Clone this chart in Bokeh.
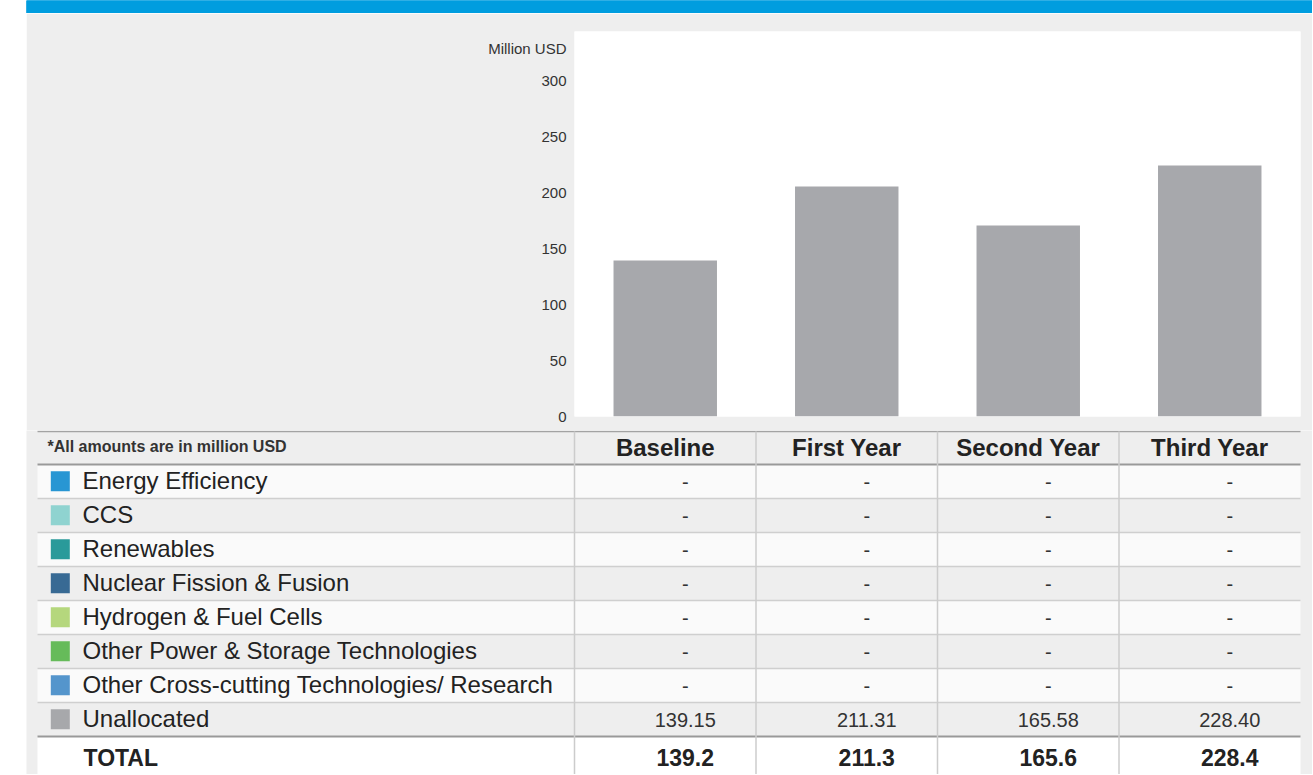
from bokeh.plotting import figure
from bokeh.models import Range1d, FactorRange, FixedTicker, Spacer
from bokeh.layouts import row, column
from bokeh.embed import file_html
from bokeh.resources import INLINE
from bokeh.core.properties import value

# ---------------- data ----------------
periods = ["Baseline", "First Year", "Second Year", "Third Year"]
bar_values = [139.3, 205.4, 170.5, 224.1]          # bar heights
y_ticks = [0, 50, 100, 150, 200, 250, 300]
y_axis_title = "Million USD"

categories = [
    "Energy Efficiency",
    "CCS",
    "Renewables",
    "Nuclear Fission & Fusion",
    "Hydrogen & Fuel Cells",
    "Other Power & Storage Technologies",
    "Other Cross-cutting Technologies/ Research",
    "Unallocated",
]
category_colors = ["#2896d3", "#8fd3d0", "#2a9a9a", "#386a94",
                   "#b5d77d", "#66bb5a", "#5495cc", "#a7a8ab"]
energy_efficiency = [None, None, None, None]
ccs = [None, None, None, None]
renewables = [None, None, None, None]
nuclear = [None, None, None, None]
hydrogen = [None, None, None, None]
other_power = [None, None, None, None]
other_cross = [None, None, None, None]
unallocated = [139.15, 211.31, 165.58, 228.40]
totals = [139.2, 211.3, 165.6, 228.4]
table_note = "*All amounts are in million USD"
total_label = "TOTAL"

table_values = [energy_efficiency, ccs, renewables, nuclear,
                hydrogen, other_power, other_cross, unallocated]

FONT = value("Liberation Sans")
PANEL = "#eeeeee"

# ---------------- geometry (page pixels) ----------------
PANEL_LEFT = 26
PAGE_RIGHT = 1312
FIG_W = PAGE_RIGHT - PANEL_LEFT
FRAME_LEFT, FRAME_RIGHT = 574, 1300
FRAME_TOP, FRAME_BOTTOM = 31, 416
BLUE_TOP, BLUE_BOTTOM = 0, 13
TABLE_TOP, PAGE_BOTTOM = 430, 774
TABLE_LEFT, TABLE_RIGHT = 37, 1300
HEADER_H = 34
ROW_H = 34
PX_PER_UNIT = 1.12
TITLE_TICK = 329   # position of the "Million USD" caption on the value axis

# ---------------- blue band ----------------
blue = figure(width=FIG_W, height=BLUE_BOTTOM - BLUE_TOP, x_range=Range1d(0, 1), y_range=Range1d(0, 1),
              min_border=0, x_axis_location=None, y_axis_location=None,
              background_fill_color="#009ddf", border_fill_color="#009ddf",
              outline_line_color=None, toolbar_location=None, output_backend="svg",
              frame_align=False)
blue.quad(left=[0], right=[1], bottom=[0], top=[1], color="#009ddf")
blue.grid.visible = False

# ---------------- bar chart ----------------
chart_h = TABLE_TOP - BLUE_BOTTOM
y_top = (FRAME_BOTTOM - FRAME_TOP) / PX_PER_UNIT
chart = figure(width=FIG_W, height=chart_h,
               x_range=FactorRange(factors=periods, range_padding=0),
               y_range=Range1d(0, y_top),
               min_border_left=FRAME_LEFT - PANEL_LEFT,
               min_border_right=PAGE_RIGHT - FRAME_RIGHT,
               min_border_top=FRAME_TOP - BLUE_BOTTOM,
               min_border_bottom=TABLE_TOP - FRAME_BOTTOM,
               background_fill_color="white", border_fill_color=PANEL,
               outline_line_color=None, toolbar_location=None, output_backend="svg",
               frame_align=False)
chart.vbar(x=periods, top=bar_values, width=0.57, fill_color="#a7a8ac", line_color=None)
chart.xaxis.visible = False
chart.grid.visible = False
ya = chart.yaxis[0]
ya.ticker = FixedTicker(ticks=y_ticks + [TITLE_TICK])
ya.major_label_overrides = {TITLE_TICK: y_axis_title}
ya.major_tick_line_color = None
ya.minor_tick_line_color = None
ya.major_tick_out = 0
ya.major_tick_in = 0
ya.axis_line_color = None
ya.major_label_standoff = 8
ya.major_label_text_font = "Liberation Sans"
ya.major_label_text_font_size = "15px"
ya.major_label_text_color = "#333333"

# ---------------- table ----------------
tbl_h = PAGE_BOTTOM - TABLE_TOP
tbl = figure(width=FIG_W, height=tbl_h, x_range=Range1d(PANEL_LEFT, PAGE_RIGHT),
             y_range=Range1d(PAGE_BOTTOM, TABLE_TOP), min_border=0,
             x_axis_location=None, y_axis_location=None,
             background_fill_color=PANEL, border_fill_color=PANEL,
             outline_line_color=None, toolbar_location=None, output_backend="svg",
             frame_align=False)
tbl.grid.visible = False

n = len(categories)
col_edges = [FRAME_LEFT + i * (FRAME_RIGHT - FRAME_LEFT) / 4 for i in range(5)]
col_centers = [(col_edges[i] + col_edges[i + 1]) / 2 for i in range(4)]
val_centers = [c + 20 for c in col_centers]
row_tops = [TABLE_TOP + HEADER_H + i * ROW_H for i in range(n)]
row_mid = [t + ROW_H / 2 for t in row_tops]
total_top = row_tops[-1] + ROW_H

# row backgrounds
tbl.quad(left=[TABLE_LEFT] * n, right=[TABLE_RIGHT] * n, top=row_tops,
         bottom=[t + ROW_H for t in row_tops],
         fill_color=["#fafafa" if i % 2 == 0 else PANEL for i in range(n)], line_color=None)
tbl.quad(left=[TABLE_LEFT], right=[TABLE_RIGHT], top=[total_top], bottom=[PAGE_BOTTOM + 10],
         fill_color="#ffffff", line_color=None)

# horizontal lines
sep_y = [t + ROW_H for t in row_tops[:-1]]
tbl.segment(x0=[TABLE_LEFT] * len(sep_y), x1=[TABLE_RIGHT] * len(sep_y), y0=sep_y, y1=sep_y,
            line_color="#cfcfcf", line_width=1.5)
tbl.segment(x0=[TABLE_LEFT], x1=[TABLE_RIGHT], y0=[TABLE_TOP + 1], y1=[TABLE_TOP + 1],
            line_color="#a3a3a3", line_width=1.5)
tbl.segment(x0=[TABLE_LEFT] * 2, x1=[TABLE_RIGHT] * 2,
            y0=[TABLE_TOP + HEADER_H, total_top], y1=[TABLE_TOP + HEADER_H, total_top],
            line_color="#999999", line_width=2)
# vertical lines
vx = col_edges[:4]
tbl.segment(x0=vx, x1=vx, y0=[TABLE_TOP + 1] * 4, y1=[PAGE_BOTTOM + 5] * 4,
            line_color="#cccccc", line_width=1.5)

# header
tbl.text(x=[47], y=[TABLE_TOP + HEADER_H / 2 - 1], text=[table_note], text_font=FONT,
         text_font_size="16px", text_font_style="bold", text_color="#333333",
         text_align="left", text_baseline="middle")
tbl.text(x=col_centers, y=[TABLE_TOP + HEADER_H / 2] * 4, text=periods, text_font=FONT,
         text_font_size="24px", text_font_style="bold", text_color="#222222",
         text_align="center", text_baseline="middle")

# legend squares + labels
tbl.rect(x=[59.8] * n, y=[m - 0.3 for m in row_mid], width=19, height=20,
         fill_color=category_colors, line_color=None)
tbl.text(x=[82] * n, y=[m - 1 for m in row_mid], text=categories, text_font=FONT,
         text_font_size="24px", text_color="#222222", text_align="left", text_baseline="middle")

# cells
cx, cy, ct = [], [], []
for i, vals in enumerate(table_values):
    for j, v in enumerate(vals):
        cx.append(val_centers[j])
        cy.append(row_mid[i])
        ct.append("-" if v is None else f"{v:.2f}")
tbl.text(x=cx, y=cy, text=ct, text_font=FONT, text_font_size="20px", text_color="#333333",
         text_align="center", text_baseline="middle")

# total row
tbl.text(x=[83], y=[total_top + 21], text=[total_label], text_font=FONT, text_font_size="23px",
         text_font_style="bold", text_color="#222222", text_align="left", text_baseline="middle")
tbl.text(x=val_centers, y=[total_top + 21] * 4, text=[f"{t:.1f}" for t in totals], text_font=FONT,
         text_font_size="23px", text_font_style="bold", text_color="#222222",
         text_align="center", text_baseline="middle")

layout = row(Spacer(width=PANEL_LEFT, height=PAGE_BOTTOM),
             column(blue, chart, tbl))

open("out.html", "w").write(file_html(layout, INLINE))
